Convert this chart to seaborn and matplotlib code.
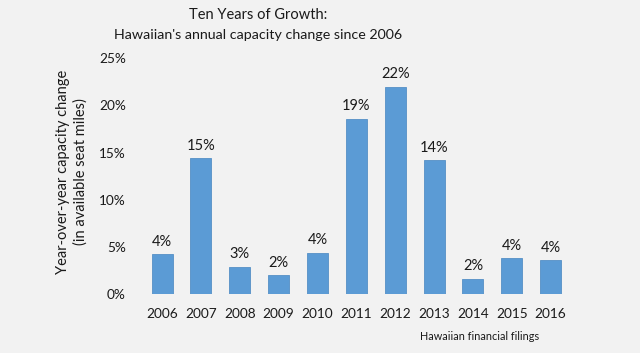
import pandas as pd
from matplotlib import pyplot as plt
import seaborn as sns

years = ["2006", "2007", "2008", "2009", "2010", "2011", "2012", "2013", "2014", "2015", "2016"]
capacity_change = [4.2, 14.4, 2.9, 2.0, 4.4, 18.6, 22.0, 14.2, 1.6, 3.8, 3.6]
value_labels = ["4%", "15%", "3%", "2%", "4%", "19%", "22%", "14%", "2%", "4%", "4%"]
y_ticks = [0, 5, 10, 15, 20, 25]
y_tick_labels = ["0%", "5%", "10%", "15%", "20%", "25%"]

bg = "#f2f2f2"
sns.set_style("white", {"axes.facecolor": bg, "figure.facecolor": bg})
plt.rcParams["font.family"] = ["Lato", "DejaVu Sans"]

plot_data = pd.DataFrame({"Year": years, "Change": capacity_change})

fig = plt.figure(figsize=(6.4, 3.53), dpi=100)
ax = fig.add_axes([0.2228, 0.167, 0.668, 0.668])
sns.barplot(data=plot_data, x="Year", y="Change", color="#5b9bd5", saturation=1,
            width=0.54, edgecolor="#5590c6", linewidth=0.6, ax=ax)

# value labels above each bar
for i, label in enumerate(value_labels):
    ax.annotate(label, (i, capacity_change[i]), xytext=(0, 4), textcoords="offset points",
                ha="center", va="bottom", fontsize=10.5, color="#1a1a1a")

ax.set_xlim(-0.5, len(years) - 0.5)
ax.set_ylim(0, 25)
ax.set_yticks(y_ticks)
ax.set_yticklabels(y_tick_labels)
ax.tick_params(axis="both", length=0, labelsize=9.8, labelcolor="#1a1a1a")
ax.tick_params(axis="y", pad=12)
ax.tick_params(axis="x", pad=10)
ax.set_xlabel("")
ax.set_ylabel("")
sns.despine(ax=ax, left=True, bottom=True)

fig.text(258 / 640, 1 - 15 / 353, "Ten Years of Growth:", ha="center", va="center",
         fontsize=10.5, color="#1a1a1a")
fig.text(258 / 640, 1 - 35 / 353, "Hawaiian's annual capacity change since 2006", ha="center",
         va="center", fontsize=10.3, color="#1a1a1a")
fig.text(72 / 640, 1 - 172 / 353, "Year-over-year capacity change\n(in available seat miles)",
         rotation=90, ha="center", va="center", multialignment="center", fontsize=10.5,
         color="#1a1a1a", linespacing=1.25)
fig.text(480 / 640, 1 - 337 / 353, "Hawaiian financial filings", ha="center", va="center",
         fontsize=7.8, color="#1a1a1a")

fig.savefig("out.png", dpi=100, facecolor=bg)
